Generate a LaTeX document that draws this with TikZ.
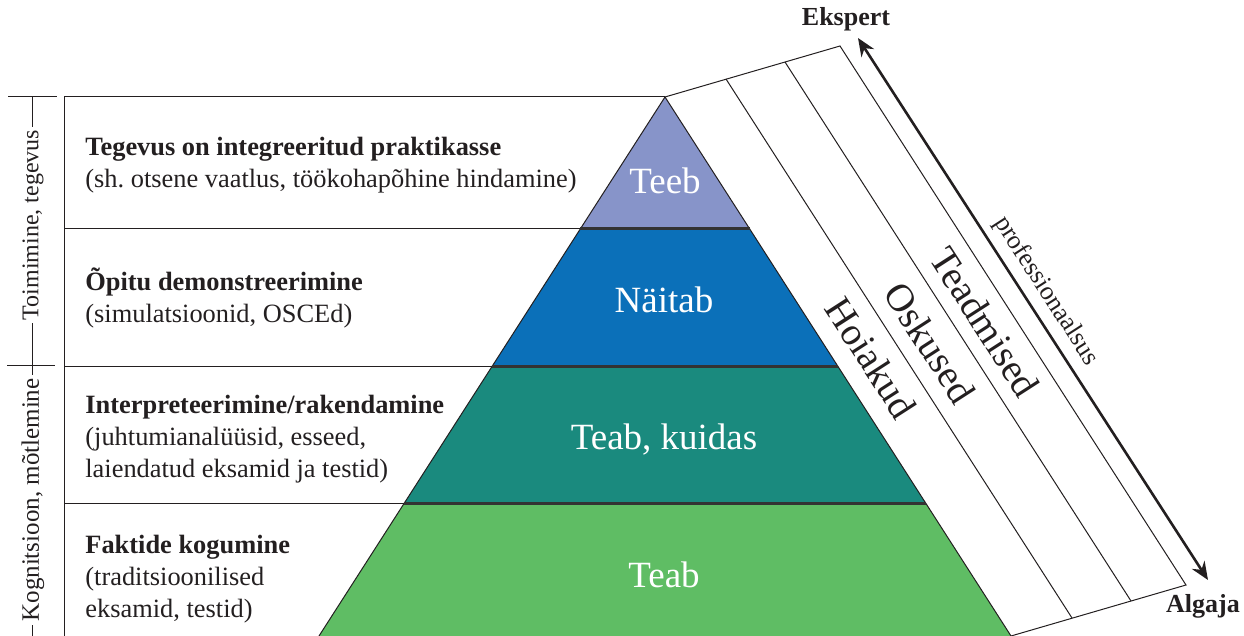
\documentclass[tikz,border=0pt]{standalone}
\usepackage{fontspec}
\setmainfont{Liberation Serif}
\usetikzlibrary{arrows.meta}
\frenchspacing

\definecolor{teebcol}{HTML}{8794C9}
\definecolor{naitabcol}{HTML}{0B70B9}
\definecolor{kuidascol}{HTML}{1A8A7E}
\definecolor{teabcol}{HTML}{5FBD64}
\definecolor{inkcol}{HTML}{231F20}

\tikzset{
  rowtext/.style={anchor=north west, inner sep=0pt, align=left, text=inkcol,
    font=\fontsize{13.2}{16}\selectfont},
  levellabel/.style={text=white, font=\fontsize{18.5}{21}\selectfont},
  striplabel/.style={rotate=-57.2, text=inkcol, font=\fontsize{19.5}{22}\selectfont},
  sidelabel/.style={rotate=90, fill=white, inner xsep=1.5pt, inner ysep=0pt, text=inkcol,
    font=\fontsize{12.5}{14}\selectfont},
  endlabel/.style={text=inkcol, font=\fontsize{13}{15}\selectfont\bfseries},
  thinline/.style={line width=0.5pt, draw=inkcol},
  levelsep/.style={line width=1.5pt, draw=black!80},
}

\begin{document}
\begin{tikzpicture}[x=0.5pt, y=-0.5pt]
    \useasboundingbox (0,0) rectangle (1244,636);

    % Pyramid levels
    \fill[teebcol] (665,97) -- (749.7,229) -- (580.3,229) -- cycle;
    \fill[naitabcol] (580.3,229) -- (749.7,229) -- (838.3,367) -- (491.7,367) -- cycle;
    \fill[kuidascol] (491.7,367) -- (838.3,367) -- (926.3,504) -- (403.7,504) -- cycle;
    \fill[teabcol] (403.7,504) -- (926.3,504) -- (1011,636) -- (319,636) -- cycle;
    \draw[thinline] (319,636) -- (665,97) -- (1011,636);

    % Left table
    \draw[thinline] (64,636) -- (64,97) -- (665,97);
    \draw[thinline] (64,229) -- (580.3,229);
    \draw[thinline] (64,367) -- (491.7,367);
    \draw[thinline] (64,504) -- (403.7,504);
    \draw[levelsep] (580.3,229) -- (749.7,229);
    \draw[levelsep] (491.7,367) -- (838.3,367);
    \draw[levelsep] (403.7,504) -- (926.3,504);

    % Row texts
    \node[rowtext] (row1) at (85,133) {\strut\textbf{Tegevus on integreeritud praktikasse}\\(sh. otsene vaatlus, töökohapõhine hindamine)};
    \node[rowtext] (row2) at (85,267) {\strut\textbf{Õpitu demonstreerimine}\\(simulatsioonid, OSCEd)};
    \node[rowtext] (row3) at (85,391) {\strut\textbf{Interpreteerimine/rakendamine}\\(juhtumianalüüsid, esseed,\\laiendatud eksamid ja testid)};
    \node[rowtext] (row4) at (85,531) {\strut\textbf{Faktide kogumine}\\(traditsioonilised\\eksamid, testid)};

    % Level labels
    \node[levellabel] (teeb) at (665,181) {Teeb};
    \node[levellabel] (naitab) at (664,300) {Näitab};
    \node[levellabel] (kuidas) at (664,440) {Teab, kuidas};
    \node[levellabel] (teab) at (664,575) {Teab};

    % Side bracket
    \draw[thinline] (32,97) -- (32,636);
    \draw[thinline] (8,97) -- (57,97);
    \draw[thinline] (7,366) -- (55,366);
    \node[sidelabel, font=\fontsize{12}{14}\selectfont] (tegevus) at (33,225) {Toimimine, tegevus};
    \node[sidelabel] (motlemine) at (33,500) {Kognitsioon, mõtlemine};

    % Strips
    \draw[thinline] (665,97) -- (840,46) -- (1186,585) -- (1011,636);
    \draw[thinline] (726,79) -- (1072,618);
    \draw[thinline] (785,62) -- (1131,601);
    \node[striplabel] (hoiakud) at (871,358) {Hoiakud};
    \node[striplabel] (oskused) at (930,343) {Oskused};
    \node[striplabel] (teadmised) at (985,322) {Teadmised};

    % Arrow
    \coordinate (top) at (858,38);
    \coordinate (bottom) at (1208,580);
    \draw[line width=1.3pt, draw=inkcol, {Stealth[length=9pt,width=7.5pt]}-{Stealth[length=9pt,width=7.5pt]}] (top) -- (bottom);
    \node[endlabel] (ekspert) at (846,19) {Ekspert};
    \node[endlabel] (algaja) at (1203,606) {Algaja};
    \node[rotate=-57.2, text=inkcol, font=\fontsize{13}{15}\selectfont] (prof) at (1046,291) {professionaalsus};
\end{tikzpicture}
\end{document}
